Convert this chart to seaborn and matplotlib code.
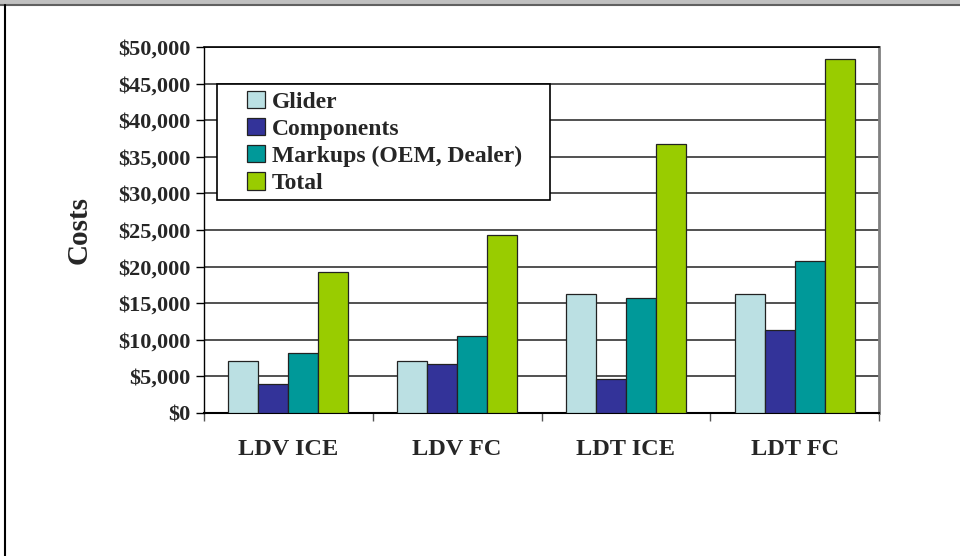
import numpy as np
import pandas as pd
import matplotlib
matplotlib.use('Agg')
import matplotlib.pyplot as plt
from matplotlib.patches import Rectangle
from matplotlib.lines import Line2D
from matplotlib.ticker import FuncFormatter, FixedLocator
import seaborn as sns

# values (US$)
vehicles = ['LDV ICE', 'LDV FC', 'LDT ICE', 'LDT FC']
series_names = ['Glider', 'Components', 'Markups (OEM, Dealer)', 'Total']
glider = [7100, 7100, 16300, 16300]
components = [3900, 6700, 4700, 11400]
markups = [8200, 10500, 15700, 20700]
total = [19200, 24300, 36700, 48400]
colors = ['#BBE0E3', '#333399', '#009999', '#99CC00']

df = pd.DataFrame({
    'vehicle': vehicles * 4,
    'series': np.repeat(series_names, len(vehicles)),
    'cost': glider + components + markups + total,
})

sns.set_theme(style='white')
plt.rcParams['font.family'] = ['Liberation Serif', 'DejaVu Serif']
plt.rcParams['font.weight'] = 'bold'

fig = plt.figure(figsize=(9.6, 5.56), dpi=100)
W, H = 960, 556
ax = fig.add_axes([204 / W, 1 - 413 / H, (879 - 204) / W, (413 - 47) / H])

sns.barplot(data=df, x='vehicle', y='cost', hue='series', order=vehicles,
            hue_order=series_names, palette=colors, width=0.71, gap=0,
            edgecolor='#222222', linewidth=0.9, saturation=1, ax=ax, zorder=3)

ax.set_ylim(0, 50000)
ax.set_xlim(-0.5, 3.5)
ax.yaxis.set_major_locator(FixedLocator(np.arange(0, 50001, 5000)))
ax.yaxis.set_major_formatter(FuncFormatter(lambda v, p: f'${v:,.0f}'))
ax.grid(axis='y', color='#333333', linewidth=1.2, zorder=0)
ax.set_axisbelow(True)

ax.tick_params(axis='y', which='major', direction='out', length=6, width=1,
               color='black', pad=4, labelsize=16, left=True)
ax.tick_params(axis='x', which='major', length=0, pad=19, labelsize=17.5)
ax.xaxis.set_minor_locator(FixedLocator(np.arange(-0.5, 4.0, 1.0)))
ax.tick_params(axis='x', which='minor', direction='out', length=6, width=1,
               color='#555555', bottom=True)
for lbl in ax.get_xticklabels() + ax.get_yticklabels():
    lbl.set_fontweight('bold')

ax.set_xlabel('')
ax.set_ylabel('Costs', fontsize=21, fontweight='bold', labelpad=18)

for side in ['left', 'bottom', 'top']:
    ax.spines[side].set_color('black')
ax.spines['left'].set_linewidth(1.0)
ax.spines['bottom'].set_linewidth(1.5)
ax.spines['top'].set_linewidth(1.2)
ax.spines['right'].set_color('#808080')
ax.spines['right'].set_linewidth(2)

# legend with its own box
handles, labels = ax.get_legend_handles_labels()
ax.get_legend().remove()
box = Rectangle((217 / W, 1 - 200 / H), (550 - 217) / W, (200 - 84) / H,
                transform=fig.transFigure, facecolor='white', edgecolor='black',
                linewidth=1.2, zorder=4, clip_on=False)
ax.add_patch(box)
leg = ax.legend(handles, labels, loc='upper left', frameon=False,
                bbox_to_anchor=(247 / W, 1 - 91 / H), bbox_transform=fig.transFigure,
                borderaxespad=0, borderpad=0, prop={'size': 17, 'weight': 'bold'},
                handlelength=0.75, handleheight=0.75, handletextpad=0.3,
                labelspacing=0.22)
leg.set_zorder(5)

# window frame around the chart
fig.add_artist(Rectangle((0, 1 - 4 / H), 1, 4 / H, transform=fig.transFigure,
                         facecolor='#C0C0C0', edgecolor='none'))
fig.add_artist(Line2D([0, 1], [1 - 5 / H, 1 - 5 / H], transform=fig.transFigure,
                      color='#606060', linewidth=1.5))
fig.add_artist(Line2D([5 / W, 5 / W], [0, 1 - 5 / H], transform=fig.transFigure,
                      color='black', linewidth=1.5))

fig.savefig('out.png', dpi=100)
